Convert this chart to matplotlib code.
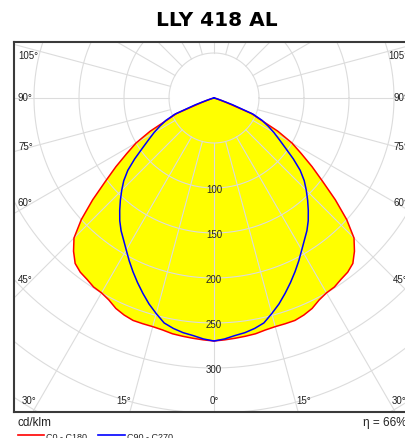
import numpy as np
import matplotlib.pyplot as plt
from matplotlib.lines import Line2D

# data (cd/klm, gamma in degrees from nadir)
title = "LLY 418 AL"
gamma = [0, 2.5, 5, 7.5, 10, 12.5, 15, 17.5, 20, 22.5, 25, 27.5, 30, 32.5, 35, 37.5,
         40, 42.5, 45, 47.5, 50, 52.5, 55, 57.5, 60, 62.5, 65, 67.5, 70, 72.5, 75,
         80, 85, 90]
c0_c180 = [270, 269, 268, 267, 266, 264, 263, 263, 263, 261, 258, 253, 250, 249, 246, 244,
           240, 231, 220, 200, 176, 152, 133, 115, 100, 80, 57, 45, 15, 5, 2,
           1, 0, 0]
c90_c270 = [270, 268, 265, 263, 260, 256, 248, 240, 231, 222, 213, 204, 195, 187, 180, 172,
            163, 154, 145, 136, 125, 111, 97, 86, 77, 68, 59, 47, 22, 8, 3,
            1, 0, 0]
ring_values = [100, 150, 200, 250, 300]
side_angles = ["105°", "90°", "75°", "60°", "45°"]
bottom_angles = ["30°", "15°", "0°", "15°", "30°"]
unit = "cd/klm"
efficiency = "η = 66%"
legend_names = ["C0 - C180", "C90 - C270"]

W, H = 406, 438
fig = plt.figure(figsize=(W / 100, H / 100), dpi=100)

def fx(px):
    return px / W

def fy(py):
    return 1 - py / H

# frame of the polar plot: px 14..414 x 42..412, centre at (214, 98)
cx, cy, scale = 214, 98, 0.9
ax = fig.add_axes([fx(14), fy(412), 400 / W, 370 / H])
ax.set_xlim((14 - cx) / scale, (414 - cx) / scale)
ax.set_ylim(-(412 - cy) / scale, (cy - 42) / scale)
ax.set_xticks([])
ax.set_yticks([])
for side in ["left", "top", "bottom"]:
    ax.spines[side].set_color("#3a3a3a")
    ax.spines[side].set_linewidth(1.5)
ax.spines["right"].set_visible(False)

def curve(vals):
    g = np.radians(gamma)
    ang = np.concatenate([-g[::-1], g[1:]])
    r = np.concatenate([np.array(vals)[::-1], np.array(vals)[1:]])
    return r * np.sin(ang), -r * np.cos(ang)

xr, yr = curve(c0_c180)
xb, yb = curve(c90_c270)
ax.fill(xr, yr, color="#ffff00", zorder=1, lw=0)
ax.fill(xb, yb, color="#ffff00", zorder=1, lw=0)

# grid
grid_col = "#dcdcdc"
t = np.linspace(0, 2 * np.pi, 400)
for r in range(50, 501, 50):
    ax.plot(r * np.cos(t), r * np.sin(t), color=grid_col, lw=0.8, zorder=2)
for a in range(0, 360, 15):
    s, c = np.sin(np.radians(a)), -np.cos(np.radians(a))
    ax.plot([50 * s, 600 * s], [50 * c, 600 * c], color=grid_col, lw=0.8, zorder=2)

ax.plot(xr, yr, color="#ff0000", lw=1.1, zorder=3, solid_joinstyle="round")
ax.plot(xb, yb, color="#0000ff", lw=1.1, zorder=4, solid_joinstyle="round")

lab_font = dict(family="Liberation Sans", fontsize=7, color="#222222")
for v in ring_values:
    ax.text(0, -(v + 2), str(v), ha="center", va="center", zorder=5, **lab_font)

side_y = [56, 98, 147, 203, 280]
for lab, py in zip(side_angles, side_y):
    fig.text(fx(18), fy(py), lab, ha="left", va="center", **lab_font)
    fig.text(fx(408), fy(py), lab, ha="right", va="center", **lab_font)

bottom_x = [29, 124, 214, 304, 399]
for lab, px in zip(bottom_angles, bottom_x):
    fig.text(fx(px), fy(401.5), lab, ha="center", va="center", **lab_font)

fig.text(fx(217), fy(21), title, ha="center", va="center",
         fontsize=14.5, fontweight="bold", family="DejaVu Sans", color="black")

fig.text(fx(18), fy(423), unit, ha="left", va="center",
         family="Liberation Sans", fontsize=8.5, color="#222222")
fig.text(fx(407), fy(423), efficiency, ha="right", va="center",
         family="Liberation Sans", fontsize=8.5, color="#222222")

# legend
for (x0, x1, tx), name, col in zip([(18, 44, 46), (98, 125, 127)], legend_names,
                                   ["#ff0000", "#0000ff"]):
    fig.add_artist(Line2D([fx(x0), fx(x1)], [fy(435), fy(435)], color=col, lw=1.2))
    fig.text(fx(tx), fy(437), name, ha="left", va="center",
             family="Liberation Sans", fontsize=6.5, color="#222222")

fig.savefig("out.png", dpi=100)
